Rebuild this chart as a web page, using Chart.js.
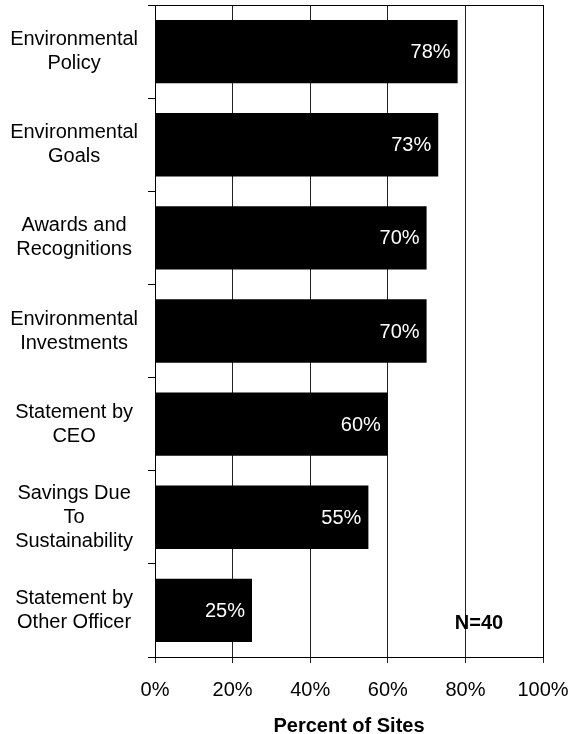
<!DOCTYPE html>
<html>
<head>
<meta charset="utf-8">
<script src="https://cdn.jsdelivr.net/npm/chart.js@4/dist/chart.umd.min.js"></script>
<style>
  html, body { margin: 0; padding: 0; background: #fff; }
  #wrap { width: 570px; height: 734px; }
</style>
</head>
<body>
<div id="wrap"><canvas id="c" width="570" height="734"></canvas></div>
<script>
const categories = [
  ["Environmental", "Policy"],
  ["Environmental", "Goals"],
  ["Awards and", "Recognitions"],
  ["Environmental", "Investments"],
  ["Statement by", "CEO"],
  ["Savings Due", "To", "Sustainability"],
  ["Statement by", "Other Officer"]
];
const values = [78, 73, 70, 70, 60, 55, 25];
const xTicks = [0, 20, 40, 60, 80, 100];
const axisTitle = "Percent of Sites";
const noteText = "N=40";

const FONT = "'Liberation Sans', Arial, sans-serif";

const labelsPlugin = {
  id: 'valueLabels',
  afterDatasetsDraw(chart) {
    const ctx = chart.ctx;
    const meta = chart.getDatasetMeta(0);
    ctx.save();
    ctx.font = "20px " + FONT;
    ctx.fillStyle = "#fff";
    ctx.textAlign = "right";
    ctx.textBaseline = "middle";
    meta.data.forEach((bar, i) => {
      ctx.fillText(values[i] + "%", bar.x - 7, bar.y + 1);
    });
    ctx.restore();
  },
  afterDraw(chart) {
    const ctx = chart.ctx;
    const a = chart.chartArea;
    ctx.save();
    ctx.strokeStyle = "#000";
    ctx.lineWidth = 1;
    ctx.strokeRect(Math.round(a.left) + 0.5, Math.round(a.top) + 0.5,
                   Math.round(a.right - a.left), Math.round(a.bottom - a.top));
    const xs = chart.scales.x, ys = chart.scales.y;
    ctx.font = "bold 20px " + FONT;
    ctx.fillStyle = "#000";
    ctx.textAlign = "center";
    ctx.textBaseline = "middle";
    ctx.fillText(noteText, xs.getPixelForValue(83.5), ys.getPixelForValue(6) + 13);
    ctx.restore();
  }
};

new Chart(document.getElementById('c'), {
  type: 'bar',
  data: {
    labels: categories,
    datasets: [{
      data: values,
      backgroundColor: '#000',
      borderWidth: 0,
      barPercentage: 0.68,
      categoryPercentage: 1.0
    }]
  },
  options: {
    indexAxis: 'y',
    responsive: false,
    animation: false,
    devicePixelRatio: 1,
    layout: { padding: { top: 5, right: 27, bottom: 0, left: 0 } },
    plugins: { legend: { display: false }, tooltip: { enabled: false } },
    scales: {
      x: {
        min: 0, max: 100,
        afterBuildTicks(scale) { scale.ticks = xTicks.map(v => ({ value: v })); },
        afterFit(scale) { scale.paddingLeft = 0; scale.paddingRight = 0; scale.height = 77; },
        ticks: {
          callback: v => v + '%',
          font: { family: FONT, size: 20 },
          color: '#000',
          padding: 15,
          maxRotation: 0
        },
        grid: { color: '#222', lineWidth: 1, drawTicks: true, tickLength: 6 },
        border: { color: '#000' },
        title: {
          display: true,
          text: axisTitle,
          font: { family: FONT, size: 20, weight: 'bold' },
          color: '#000',
          padding: { top: 0, bottom: -4 }
        }
      },
      y: {
        afterFit(scale) { scale.width = 155; scale.paddingTop = 0; scale.paddingBottom = 0; },
        ticks: {
          font: { family: FONT, size: 20, lineHeight: 1.2 },
          color: '#000',
          crossAlign: 'center',
          padding: 10
        },
        grid: { drawOnChartArea: false, drawTicks: true, tickLength: 7, color: '#000' },
        border: { color: '#000' }
      }
    }
  },
  plugins: [labelsPlugin]
});
</script>
</body>
</html>
